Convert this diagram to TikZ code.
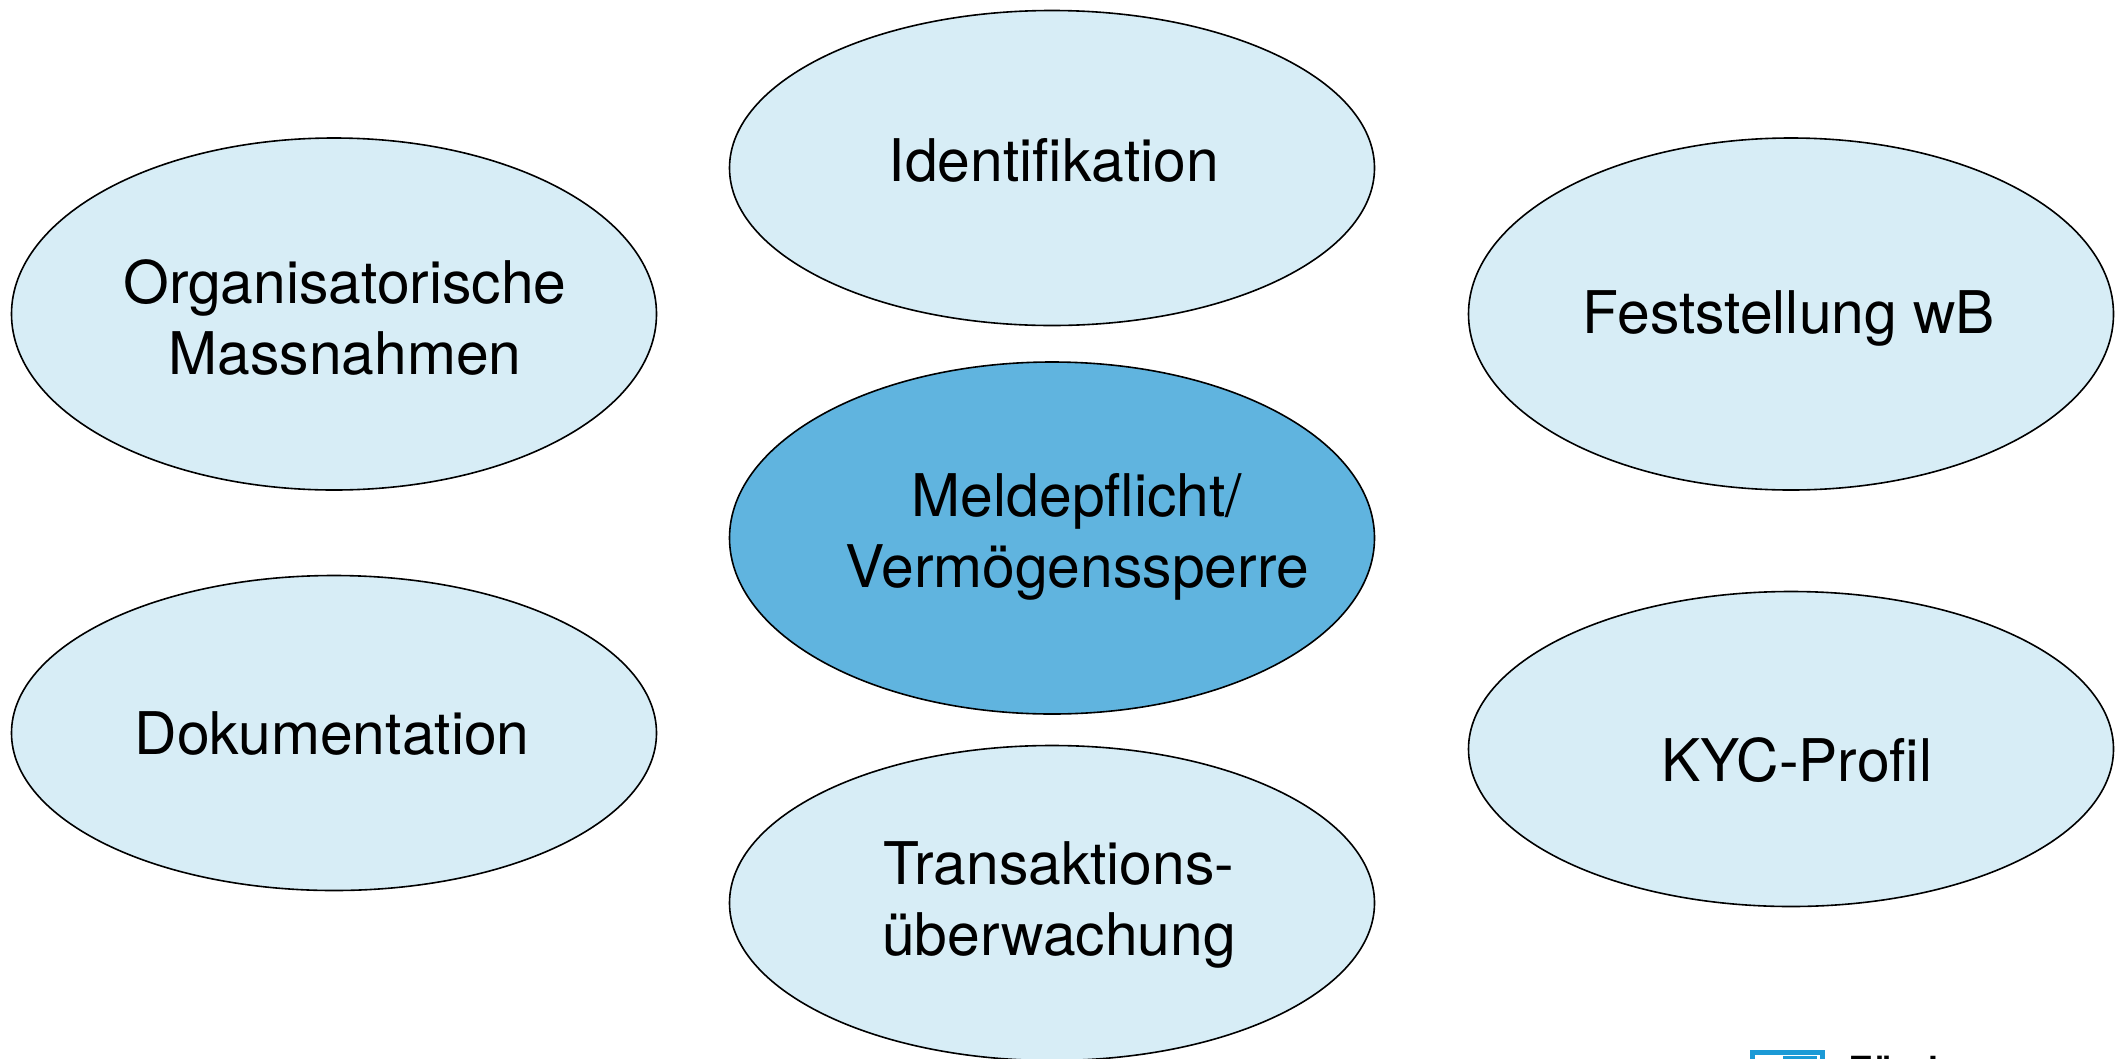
\documentclass[tikz,border=0pt]{standalone}
\usepackage{fontspec}
\setmainfont{TeX Gyre Heros}
\usetikzlibrary{shapes.geometric}
\definecolor{lightb}{HTML}{D7EDF6}
\definecolor{darkb}{HTML}{60B4DF}
\definecolor{logob}{HTML}{1C9AD6}
\tikzset{
  oval/.style n args={3}{ellipse,draw=black,line width=1.6pt,fill=#1,minimum width=#2,minimum height=#3,inner sep=0pt,outer sep=0pt},
  lab/.style={font=\fontsize{58.8}{71}\selectfont,align=center,text=black,inner sep=0pt,anchor=center}
}
\begin{document}
\begin{tikzpicture}[x=1pt,y=-1pt]
\useasboundingbox (0,0) rectangle (2123,1058);
\clip (0,0) rectangle (2123,1058);
\fill[white] (0,0) rectangle (2123,1058);
\node[oval={lightb}{645pt}{315pt}] (ident) at (1052,168) {};
\node[oval={lightb}{645pt}{352pt}] (orga) at (334,314) {};
\node[oval={lightb}{645pt}{315pt}] (doku) at (334,733) {};
\node[oval={darkb}{645pt}{352pt}] (meld) at (1052,538) {};
\node[oval={lightb}{645pt}{315pt}] (trans) at (1052,903) {};
\node[oval={lightb}{645pt}{352pt}] (fest) at (1791,314) {};
\node[oval={lightb}{645pt}{315pt}] (kyc) at (1791,749) {};
\node[lab] (t1) at (1054,160) {Identifikation};
\node[lab] (t2) at (345,317) {Organisatorische\\Massnahmen};
\node[lab] (t3) at (332,733) {Dokumentation};
\node[lab] (t4) at (1077,537) {Meldepflicht/\\Verm\"ogenssperre};
\node[lab] (t5) at (1059,905) {Transaktions-\\\"uberwachung};
\node[lab] (t6) at (1789,318) {Feststellung wB};
\node[lab] (t7) at (1797,760) {KYC-Profil};
\draw[logob,line width=5pt] (1752,1052) rectangle (1822,1100);
\fill[logob] (1783,1056) rectangle (1817,1062);
\node[font=\fontsize{36}{36}\selectfont\bfseries,anchor=base west,inner sep=0pt] (logo) at (1850,1082) {Z\"urcher};
\end{tikzpicture}
\end{document}
